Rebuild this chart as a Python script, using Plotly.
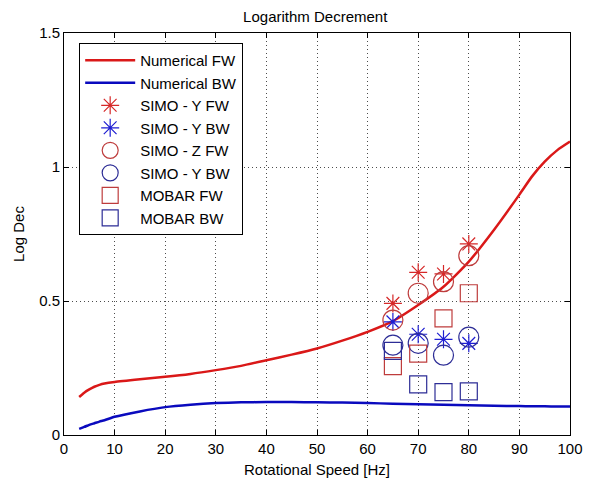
import plotly.graph_objects as go

# ---- data ----
speed = [3, 4, 5, 6, 7, 8, 10, 15, 20, 25, 30, 35, 40, 45, 50, 55, 60, 65, 70, 75,
         80, 85, 90, 92.5, 95, 97.5, 100]
num_fw = [0.142, 0.158, 0.170, 0.180, 0.187, 0.192, 0.198, 0.208, 0.217, 0.228, 0.242,
          0.258, 0.279, 0.300, 0.323, 0.352, 0.385, 0.425, 0.485, 0.553,
          0.647, 0.766, 0.897, 0.965, 1.020, 1.063, 1.095]
num_bw = [0.023, 0.030, 0.038, 0.044, 0.050, 0.055, 0.068, 0.088, 0.104, 0.113, 0.119,
          0.122, 0.123, 0.123, 0.122, 0.121, 0.119, 0.117, 0.115, 0.113,
          0.111, 0.109, 0.108, 0.107, 0.107, 0.106, 0.106]

exp_speed = [65, 70, 75, 80]
simo_y_fw = [0.491, 0.607, 0.601, 0.713]
simo_y_bw = [0.422, 0.376, 0.357, 0.342]
simo_z_fw = [0.429, 0.529, 0.572, 0.669]
simo_y_bw2 = [0.335, 0.342, 0.298, 0.365]
mobar_fw = [0.257, 0.304, 0.435, 0.529]
mobar_bw = [0.314, 0.189, 0.160, 0.163]

x_ticks = [0, 10, 20, 30, 40, 50, 60, 70, 80, 90, 100]
y_ticks = [0, 0.5, 1, 1.5]
y_tick_labels = ["0", "0.5", "1", "1.5"]

RED_LINE = "rgb(218,24,24)"
BLUE_LINE = "rgb(10,10,190)"
RED_MK = "rgb(214,40,40)"
RED_MK2 = "rgb(190,60,60)"
BLUE_MK = "rgb(30,30,210)"
BLUE_MK2 = "rgb(45,45,150)"

fig = go.Figure()
fig.add_trace(go.Scatter(x=speed, y=num_fw, mode="lines", name="Numerical FW",
                         line=dict(color=RED_LINE, width=2.5, shape="spline", smoothing=0.6)))
fig.add_trace(go.Scatter(x=speed, y=num_bw, mode="lines", name="Numerical BW",
                         line=dict(color=BLUE_LINE, width=2.5, shape="spline", smoothing=0.6)))


def mk(y, name, symbol, color, size):
    return go.Scatter(x=exp_speed, y=y, mode="markers", name=name,
                      marker=dict(symbol=symbol, size=size, color=color,
                                  line=dict(color=color, width=1.2)))


fig.add_trace(mk(simo_y_fw, "SIMO - Y FW", "asterisk-open", RED_MK, 15))
fig.add_trace(mk(simo_y_bw, "SIMO - Y BW", "asterisk-open", BLUE_MK, 15))
fig.add_trace(mk(simo_z_fw, "SIMO - Z FW", "circle-open", RED_MK2, 20))
fig.add_trace(mk(simo_y_bw2, "SIMO - Y BW", "circle-open", BLUE_MK2, 20))
fig.add_trace(mk(mobar_fw, "MOBAR FW", "square-open", RED_MK2, 17))
fig.add_trace(mk(mobar_bw, "MOBAR BW", "square-open", BLUE_MK2, 17))

FONT = "Liberation Sans, Arial, sans-serif"
axis_common = dict(showline=True, linecolor="black", linewidth=1, mirror="ticks",
                   ticks="inside", ticklen=5, tickcolor="black",
                   showgrid=True, gridcolor="rgba(0,0,0,0.7)", griddash="1px,3px",
                   gridwidth=1, zeroline=False, automargin=False,
                   tickfont=dict(family=FONT, size=15, color="black"))

fig.update_layout(
    width=583, height=472,
    margin=dict(l=56, r=21, t=25, b=45),
    paper_bgcolor="white", plot_bgcolor="white",
    font=dict(family=FONT, size=15, color="black"),
    title=dict(text="Logarithm Decrement", x=0.527, xanchor="center",
               y=0.992, yanchor="top", pad=dict(t=0, b=0),
               font=dict(family=FONT, size=15, color="black")),
    xaxis=dict(range=[0, 100], tickvals=x_ticks,
               title=dict(text="Rotational Speed [Hz]", standoff=8,
                          font=dict(family=FONT, size=15, color="black")),
               **axis_common),
    yaxis=dict(range=[0, 1.5], tickvals=y_ticks, ticktext=y_tick_labels,
               title=dict(text="Log Dec", standoff=10,
                          font=dict(family=FONT, size=15, color="black")),
               **axis_common),
    legend=dict(x=0.03, y=0.975, xanchor="left", yanchor="top",
                bgcolor="white", bordercolor="black", borderwidth=1,
                itemwidth=50, font=dict(family=FONT, size=15, color="black"),
                tracegroupgap=0),
    showlegend=True,
)

fig.write_html("out.html")
